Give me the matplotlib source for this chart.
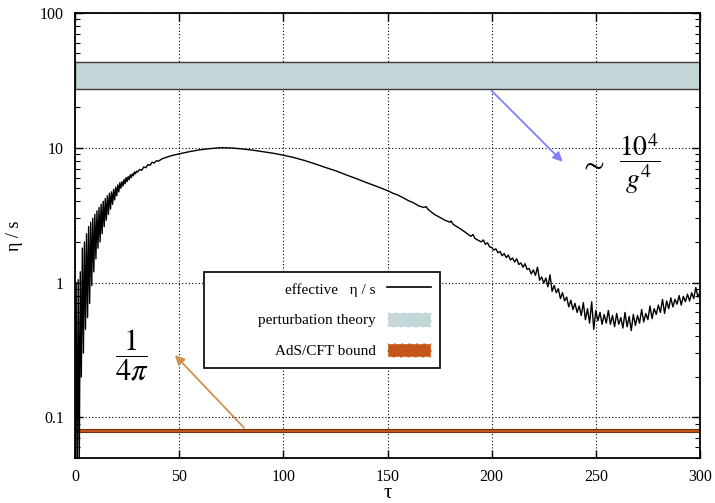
import matplotlib
matplotlib.use("Agg")
import matplotlib.pyplot as plt
from matplotlib.patches import Patch, Rectangle
from matplotlib.lines import Line2D
from matplotlib.ticker import FixedLocator, LogLocator, NullFormatter

plt.rcParams['font.family'] = ['Liberation Serif', 'DejaVu Serif']
plt.rcParams['mathtext.fontset'] = 'stix'

# effective eta/s (tau, value)
tau_early = [0.0, 0.5, 1.0, 1.5, 2.0, 2.5, 3.0, 3.5, 4.0, 4.5, 5.0, 5.5, 6.0, 6.5,
             7.0, 7.5, 8.0, 8.5, 9.0, 9.5, 10.0, 10.5, 11.0, 11.5, 12.0, 12.5,
             13.0, 13.5, 14.0, 14.5, 15.0, 15.5, 16.0, 16.5, 17.0, 17.5, 18.0,
             18.5, 19.0, 19.5, 20.0, 20.5, 21.0, 21.5, 22.0, 22.5, 23.0, 23.5,
             24.0, 24.5, 25.0, 25.5, 26.0, 26.5, 27.0, 27.5, 28.0, 28.5, 29.0,
             29.5]
eta_early = [0.04, 1.0, 0.03, 1.05, 0.04, 1.2, 0.2, 1.8, 0.3, 2.0, 0.45, 2.3, 0.55,
             2.6, 0.7, 2.8, 0.95, 3.0, 1.2, 3.2, 1.5, 3.4, 1.8, 3.6, 2.0, 3.8,
             2.3, 4.0, 2.6, 4.2, 2.9, 4.4, 3.2, 4.6, 3.5, 4.7, 3.8, 4.9, 4.1,
             5.1, 4.4, 5.3, 4.7, 5.5, 5.0, 5.6, 5.2, 5.8, 5.4, 6.0, 5.6, 6.1,
             5.8, 6.3, 6.0, 6.4, 6.2, 6.6, 6.4, 6.7]

tau_mid = [30, 31, 32, 33, 34, 35, 36, 37, 38, 39, 40, 42, 44, 46, 48, 50, 55,
           60, 65, 70, 75, 80, 85, 90, 95, 100, 105, 110, 115, 120, 125, 130,
           135, 140, 145, 150, 152.5, 155, 157.5, 160, 162.5, 165, 167.5, 168.5,
           169.5, 172.5, 175, 177.5, 180, 180.5, 181.5, 185, 187.5, 190, 191,
           192, 195, 196, 197, 198, 199]
eta_mid = [6.6, 6.9, 6.8, 7.2, 7.1, 7.5, 7.4, 7.8, 7.7, 8.0, 7.95, 8.3, 8.5,
           8.7, 8.85, 9.0, 9.35, 9.65, 9.85, 10.0, 9.95, 9.8, 9.6, 9.35, 9.1,
           8.8, 8.45, 8.05, 7.6, 7.15, 6.75, 6.3, 5.9, 5.5, 5.15, 4.8, 4.6,
           4.45, 4.25, 4.05, 3.9, 3.7, 3.6, 3.66, 3.48, 3.2, 3.05, 2.9, 2.8,
           2.86, 2.7, 2.5, 2.35, 2.2, 2.27, 2.12, 2.0, 2.07, 1.92, 1.97, 1.84]

tau_late = list(range(200, 301))
eta_late = [1.82, 1.74, 1.78, 1.66, 1.70, 1.58, 1.64, 1.53, 1.60, 1.47,
            1.52, 1.42, 1.50, 1.36, 1.40, 1.30, 1.38, 1.25, 1.27, 1.16,
            1.24, 1.13, 1.30, 1.04, 1.10, 0.99, 1.08, 0.93, 1.14, 0.86,
            0.95, 0.84, 0.90, 0.76, 0.84, 0.73, 0.78, 0.66, 0.74, 0.63,
            0.70, 0.60, 0.67, 0.57, 0.71, 0.53, 0.64, 0.50, 0.72, 0.45,
            0.62, 0.52, 0.60, 0.49, 0.58, 0.50, 0.62, 0.49, 0.57, 0.47,
            0.59, 0.49, 0.55, 0.46, 0.60, 0.47, 0.56, 0.44, 0.58, 0.48,
            0.57, 0.50, 0.63, 0.51, 0.59, 0.53, 0.67, 0.54, 0.64, 0.58,
            0.68, 0.60, 0.75, 0.59, 0.73, 0.64, 0.77, 0.66, 0.75, 0.69,
            0.80, 0.68, 0.79, 0.72, 0.82, 0.73, 0.84, 0.76, 0.92, 0.78,
            0.85]

tau = tau_early + tau_mid + tau_late
eta = eta_early + eta_mid + eta_late

pert_band = (27.4, 43.4)     # perturbation theory range
ads_band = (0.0775, 0.0820)  # around 1/(4 pi)

x_ticks = [0, 50, 100, 150, 200, 250, 300]
y_ticks = [0.1, 1, 10, 100]
y_labels = ["0.1", "1", "10", "100"]

fig = plt.figure(figsize=(7.15, 5.03), dpi=100)
ax = fig.add_axes([0.105, 0.0895, 0.874, 0.885])

ax.set_yscale('log')
ax.set_xlim(0, 300)
ax.set_ylim(0.05, 100)

ax.axhspan(pert_band[0], pert_band[1], facecolor='#c3d6d8', edgecolor='#3a3a3a', lw=1.0, zorder=2)
ax.axhspan(ads_band[0], ads_band[1], facecolor='#c5561a', edgecolor='#6e3510', lw=0.8, zorder=2)
ax.plot(tau, eta, color='black', lw=1.0, zorder=3)

ax.xaxis.set_major_locator(FixedLocator(x_ticks))
ax.yaxis.set_major_locator(FixedLocator(y_ticks))
ax.set_yticklabels(y_labels)
ax.yaxis.set_minor_locator(LogLocator(base=10, subs=range(2, 10)))
ax.yaxis.set_minor_formatter(NullFormatter())
ax.tick_params(which='both', direction='in', top=True, right=True, labelsize=11.5)
ax.tick_params(which='major', length=6, width=1, pad=8)
ax.tick_params(which='minor', length=3.5, width=0.8)
ax.grid(True, which='major', color='black', ls=(0, (1, 2)), lw=0.8)
for s in ax.spines.values():
    s.set_linewidth(1.3)

ax.set_xlabel('τ', fontsize=15, labelpad=-1)
ax.set_ylabel('η / s', fontsize=13, labelpad=12)

# annotations
ax.annotate('', xy=(235, 7.6), xytext=(199, 27.4),
            arrowprops=dict(arrowstyle='-|>', color='#8080ff', lw=1.3, mutation_scale=14))
ax.text(248, 7.4, r'$\sim$', fontsize=22, ha='center', va='center')
ax.text(271, 7.6, r'$\dfrac{10^4}{g^4}$', fontsize=20, ha='center', va='center')
ax.annotate('', xy=(47, 0.30), xytext=(82, 0.081),
            arrowprops=dict(arrowstyle='-|>', color='#d09050', lw=1.3, mutation_scale=14))
ax.text(27, 0.29, r'$\dfrac{1}{4\pi}$', fontsize=22, ha='center', va='center')

# legend: gnuplot-style wide box, labels right-aligned, keys on the right
box = Rectangle((0.2064, 0.202), 0.378, 0.216, transform=ax.transAxes,
                facecolor='white', edgecolor='black', lw=1.2, zorder=4)
ax.add_patch(box)
handles = [Line2D([], [], color='black', lw=1.2),
           Patch(facecolor='#c3d6d8', edgecolor='white', ls='--'),
           Patch(facecolor='#c5561a', edgecolor='white', ls='--')]
labels = ['effective   η / s', 'perturbation theory', 'AdS/CFT bound']
leg = ax.legend(handles, labels, loc='upper right', bbox_to_anchor=(0.584, 0.418),
                markerfirst=False, fontsize=11, frameon=False,
                handlelength=2.9, handleheight=1.1,
                labelspacing=1.0, borderpad=0.6, handletextpad=0.7, borderaxespad=0)
leg.set_zorder(5)
for t in leg.get_texts():
    t.set_ha('right')
leg._legend_box.align = 'right'

fig.savefig('out.png', dpi=100)
